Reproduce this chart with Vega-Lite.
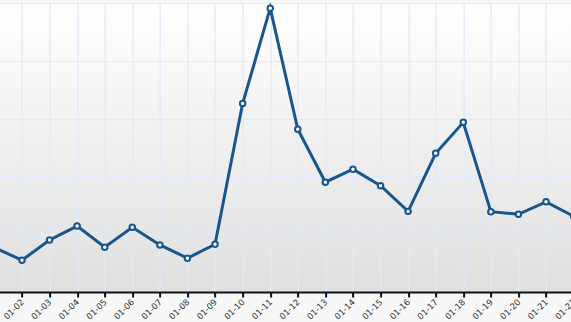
{
  "$schema": "https://vega.github.io/schema/vega-lite/v6.json",
  "autosize": {"type": "none"},
  "width": 606.8,
  "height": 289,
  "padding": {"left": -19.4, "right": -16.4, "top": 3, "bottom": 30},
  "background": "#f8f8f8",
  "config": {
    "view": {
      "stroke": null,
      "fill": {"gradient": "linear", "x1": 0, "y1": 0, "x2": 0, "y2": 1,
        "stops": [{"offset": 0, "color": "#ffffff"}, {"offset": 1, "color": "#e0e0e0"}]}
    },
    "axis": {"gridColor": "#e0eafb", "gridWidth": 1.2, "gridOpacity": 1}
  },
  "data": {"values": [
    {"date": "01-01", "value": 15.4},
    {"date": "01-02", "value": 11.0},
    {"date": "01-03", "value": 18.0},
    {"date": "01-04", "value": 22.8},
    {"date": "01-05", "value": 15.5},
    {"date": "01-06", "value": 22.4},
    {"date": "01-07", "value": 16.3},
    {"date": "01-08", "value": 11.7},
    {"date": "01-09", "value": 16.5},
    {"date": "01-10", "value": 65.2},
    {"date": "01-11", "value": 98.2},
    {"date": "01-12", "value": 56.3},
    {"date": "01-13", "value": 38.0},
    {"date": "01-14", "value": 42.5},
    {"date": "01-15", "value": 36.8},
    {"date": "01-16", "value": 27.9},
    {"date": "01-17", "value": 48.0},
    {"date": "01-18", "value": 58.7},
    {"date": "01-19", "value": 27.8},
    {"date": "01-20", "value": 26.9},
    {"date": "01-21", "value": 31.2},
    {"date": "01-22", "value": 26.2}
  ]},
  "encoding": {
    "x": {
      "field": "date", "type": "ordinal",
      "scale": {"type": "point", "padding": 0.5},
      "axis": {
        "title": null, "labelAngle": -45, "labelAlign": "right", "labelBaseline": "middle",
        "labelFont": "DejaVu Sans", "labelFontSize": 8.5,
        "labelColor": "#333333", "domainColor": "#111111", "domainWidth": 2,
        "tickColor": "#111111", "tickWidth": 2, "tickSize": 5, "labelPadding": 3,
        "labelOverlap": false, "labelBound": false,
        "grid": true
      }
    },
    "y": {
      "field": "value", "type": "quantitative",
      "scale": {"domain": [0, 100], "nice": false, "zero": true},
      "axis": {"values": [0, 20, 40, 60, 80, 100], "labels": false, "ticks": false, "domain": false, "title": null, "grid": true}
    }
  },
  "layer": [
    {"mark": {"type": "line", "color": "#16568c", "strokeWidth": 3}},
    {"mark": {"type": "point", "shape": "circle", "filled": true, "fill": "#ffffff", "stroke": "#16568c", "strokeWidth": 2, "size": 30, "opacity": 1}}
  ]
}
